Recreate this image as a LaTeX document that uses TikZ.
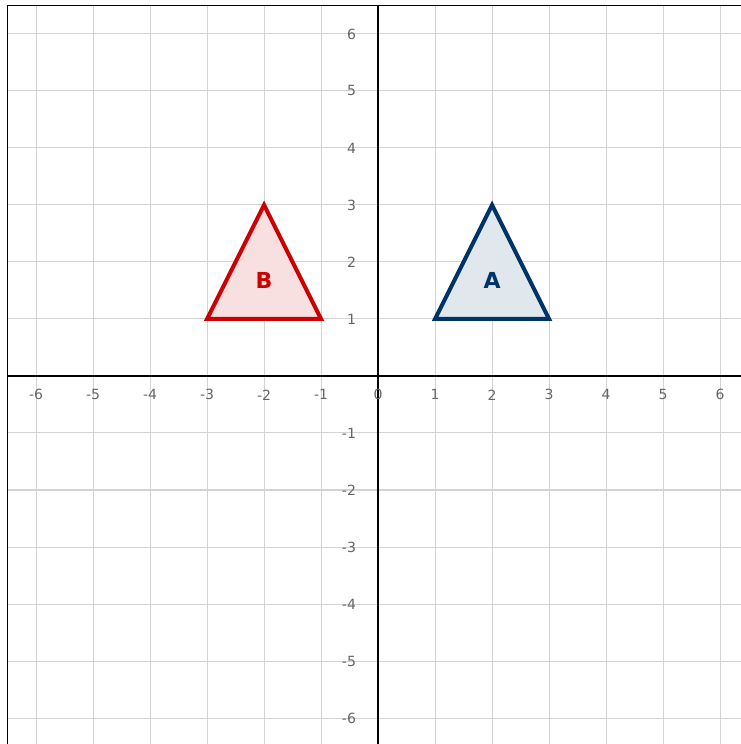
\documentclass[tikz,border=0pt]{standalone}
\usepackage{fontspec}
\setsansfont{DejaVu Sans}
\usepackage{tikz}
\definecolor{shapeblue}{HTML}{003366}
\definecolor{shapered}{HTML}{CC0000}
\definecolor{gridgray}{HTML}{D3D3D3}
\definecolor{ticktext}{HTML}{666666}
\begin{document}
\begin{tikzpicture}[x=1.0cm,y=1.0cm,
  gridline/.style={gridgray,line width=0.5pt},
  axisline/.style={black,line width=1pt},
  ticklbl/.style={ticktext,font=\sffamily\fontsize{7}{8}\selectfont,inner sep=0pt},
  tri/.style={line width=2pt,line join=miter},
  trilbl/.style={font=\sffamily\bfseries\fontsize{11}{12}\selectfont}]
\useasboundingbox (-6.632,-6.456) rectangle (6.351,6.596);
\fill[white] (-6.632,-6.456) rectangle (6.351,6.596);
% grid
\foreach \k in {-6,...,6} {
  \draw[gridline] (\k,-6.5) -- (\k,6.5);
  \draw[gridline] (-6.5,\k) -- (6.5,\k);
}
% frame and axes
\draw[black,line width=0.8pt] (-6.5,-6.5) rectangle (6.5,6.5);
\draw[axisline] (-6.5,0) -- (6.5,0);
\draw[axisline] (0,-6.5) -- (0,6.5);
% tick labels
\foreach \k in {-6,...,6}
  \node[ticklbl] (xl\k) at (\k,-0.33) {\k};
\foreach \k in {-6,...,-1,1,2,...,6}
  \node[ticklbl,anchor=east] (yl\k) at (-0.38,\k) {\k};
% triangles
\draw[tri,shapered,fill=shapered!12] (-3,1) -- (-1,1) -- (-2,3) -- cycle;
\draw[tri,shapeblue,fill=shapeblue!12] (1,1) -- (3,1) -- (2,3) -- cycle;
\node[trilbl,shapered] (lblB) at (-2,1.67) {B};
\node[trilbl,shapeblue] (lblA) at (2,1.67) {A};
\end{tikzpicture}
\end{document}
